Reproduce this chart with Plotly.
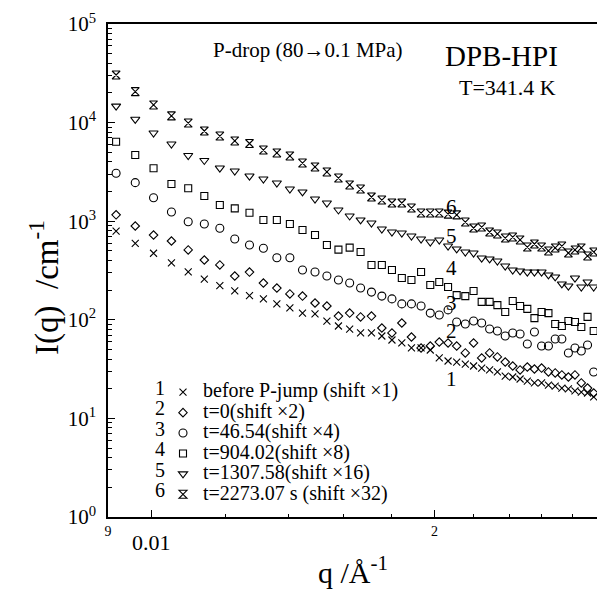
import numpy as np
import plotly.graph_objects as go

# ---------------- data ----------------
q = [0.00918, 0.00962, 0.01006, 0.01051, 0.01095, 0.01139, 0.01183, 0.01227, 0.01272, 0.01316,
     0.01360, 0.01404, 0.01448, 0.01493, 0.01537, 0.01581, 0.01625, 0.01669, 0.01714, 0.01758,
     0.01802, 0.01846, 0.01890, 0.01935, 0.01979, 0.02023, 0.02067, 0.02111, 0.02156, 0.02200,
     0.02244, 0.02288, 0.02332, 0.02377, 0.02421, 0.02465, 0.02509, 0.02553, 0.02598, 0.02642,
     0.02686, 0.02730, 0.02774, 0.02819, 0.02863, 0.02907, 0.02951]

I1 = [795, 597, 473, 377, 307, 258, 222, 196, 176, 163, 145, 132, 117, 115, 97.2, 86.5, 80.6, 73.5, 73.5, 68.5,
      62.4, 58.2, 51.8, 51.8, 49.4, 41.0, 38.2, 37.3, 35.6, 34.0, 32.4, 31.0, 29.6, 26.9, 26.3, 25.1, 23.9, 22.9,
      22.9, 21.8, 21.3, 20.3, 19.9, 19.0, 18.5, 18.1, 16.5]
I2 = [1160, 894, 724, 630, 511, 404, 360, 278, 305, 236, 210, 183, 174, 148, 138, 109, 117, 107, 109, 82.6,
      73.5, 92.8, 66.9, 51.8, 54.2, 59.5, 58.2, 54.2, 46.1, 58.2, 41.0, 46.1, 42.0, 37.3, 34.0, 31.0, 33.2, 31.7,
      32.4, 29.6, 28.9, 27.6, 26.3, 27.6, 22.9, 20.3, 18.1]
I3 = [3060, 2460, 1730, 1240, 988, 937, 847, 660, 574, 531, 426, 426, 320, 305, 278, 253, 236, 210, 191, 174,
      163, 145, 145, 138, 117, 112, 126, 95.0, 90.7, 97.2, 92.8, 80.6, 77.0, 68.5, 73.5, 71.8, 56.8, 75.2, 54.2,
      54.2, 63.9, 63.9, 46.1, 51.8, 48.3, 55.5, 29.6]
I4 = [6400, 4690, 3440, 2380, 2160, 1800, 1460, 1350, 1220, 1030, 1030, 937, 814, 724, 574, 515, 540, 487, 360,
      360, 320, 265, 253, 305, 225, 242, 215, 178, 174, 196, 152, 152, 141, 120, 155, 138, 129, 104, 120, 117,
      90.7, 86.5, 97.2, 95.0, 84.5, 107, 77.0]
I5 = [14700, 10800, 7840, 6070, 4640, 4130, 3460, 3230, 2870, 2680, 2440, 2120, 1980, 1680, 1530, 1300, 1130,
      1030, 959, 833, 777, 759, 708, 660, 615, 645, 560, 523, 487, 476, 423, 414, 395, 351, 320, 313, 305, 305,
      305, 285, 272, 231, 220, 265, 215, 242, 215]
I6 = [30400, 20600, 15100, 11700, 9900, 8220, 7310, 6510, 6140, 5270, 4920, 4590, 3890, 3550, 3160, 2740, 2330,
      2120, 1760, 1640, 1530, 1530, 1360, 1210, 1210, 1210, 1180, 1160, 981, 853, 873, 777, 742, 675, 691, 645,
      547, 587, 547, 499, 535, 560, 476, 511, 535, 444, 487]

series = [I1, I2, I3, I4, I5, I6]
numbers = ["1", "2", "3", "4", "5", "6"]
names = ["before P-jump (shift \u00d71)", "t=0(shift \u00d72)", "t=46.54(shift \u00d74)",
         "t=904.02(shift \u00d78)", "t=1307.58(shift \u00d716)", "t=2273.07 s (shift \u00d732)"]
symbols = ["x-thin-open", "diamond-open", "circle-open", "square-open", "triangle-down-open", "hourglass-open"]
sizes = [7, 6.5, 8, 7, 8, 8]

# curve labels (position along the curves)
curve_label_q = 0.02085
curve_label_I = [25.1, 77, 148, 335, 708, 1390]

ytickvals = [1, 10, 100, 1000, 10000, 100000]
yticktext = ["10<sup>%d</sup>" % k for k in range(6)]
xtickvals = [0.009, 0.01, 0.02]
xticktext = ["9", "", "2"]
xminor = [0.012, 0.014, 0.016, 0.018, 0.022, 0.024, 0.026, 0.028]
yminor = [m * 10 ** d for d in range(5) for m in range(2, 10)]

FONT = "Liberation Serif"

fig = go.Figure()
for I, nm, sym, sz in zip(series, names, symbols, sizes):
    fig.add_trace(go.Scatter(
        x=q, y=I, mode="markers",
        name="<span style='font-size:20px'>%s</span>" % nm,
        marker=dict(symbol=sym, size=sz, color="black", line=dict(width=1.1, color="black")),
    ))

W, H = 597, 589
L, R, T, B = 108, 0, 24, 72
pw, ph = W - L - R, H - T - B


def px(xp):
    return (xp - L) / pw


def py(yp):
    return (H - B - yp) / ph


ann = []
# legend numbers
for k, n in enumerate(numbers):
    ann.append(dict(text=n, x=px(160), y=py(388 + 20.4 * k), xref="paper", yref="paper",
                    showarrow=False, font=dict(family=FONT, size=20, color="black"),
                    xanchor="center", yanchor="middle"))
# curve labels
for n, yv in zip(numbers, curve_label_I):
    ann.append(dict(text=n, x=np.log10(curve_label_q), y=np.log10(yv), xref="x", yref="y",
                    showarrow=False, font=dict(family=FONT, size=21, color="black"),
                    xanchor="center", yanchor="middle"))
ann += [
    dict(text="P-drop (80\u21920.1 MPa)", x=px(308), y=py(50), xref="paper", yref="paper",
         showarrow=False, font=dict(family=FONT, size=21, color="black"), xanchor="center", yanchor="middle"),
    dict(text="DPB-HPI", x=px(501.5), y=py(56), xref="paper", yref="paper",
         showarrow=False, font=dict(family=FONT, size=29, color="black"), xanchor="center", yanchor="middle"),
    dict(text="T=341.4 K", x=px(507.5), y=py(87.5), xref="paper", yref="paper",
         showarrow=False, font=dict(family=FONT, size=22, color="black"), xanchor="center", yanchor="middle"),
    dict(text="0.01", x=np.log10(0.01), y=py(542), xref="x", yref="paper",
         showarrow=False, font=dict(family=FONT, size=22, color="black"), xanchor="center", yanchor="middle"),
    dict(text="q /\u00c5<sup>-1</sup>", x=px(353), y=py(570), xref="paper", yref="paper",
         showarrow=False, font=dict(family=FONT, size=30, color="black"), xanchor="center", yanchor="middle"),
    dict(text="I(q)\u00a0 /cm<sup>-1</sup>", x=px(44), y=py(288), xref="paper", yref="paper", textangle=-90,
         showarrow=False, font=dict(family=FONT, size=33, color="black"), xanchor="center", yanchor="middle"),
]

fig.update_layout(
    width=W, height=H,
    margin=dict(l=L, r=R, t=T, b=B),
    paper_bgcolor="white", plot_bgcolor="white",
    font=dict(family=FONT, color="black"),
    showlegend=True,
    legend=dict(x=px(163), y=py(377), xanchor="left", yanchor="top", bgcolor="rgba(0,0,0,0)",
                font=dict(family=FONT, size=13.4, color="black"), itemwidth=30, borderwidth=0,
                tracegroupgap=0),
    annotations=ann,
    xaxis=dict(type="log", range=[np.log10(0.009), np.log10(0.02975)],
               showgrid=False, zeroline=False, showline=True, linecolor="black", linewidth=1.5, mirror=True,
               tickmode="array", tickvals=xtickvals, ticktext=xticktext, ticks="inside", ticklen=7,
               tickwidth=1.2, tickcolor="black", tickfont=dict(family=FONT, size=14, color="black"),
               minor=dict(tickmode="array", tickvals=xminor, ticks="inside", ticklen=3, tickwidth=1,
                          tickcolor="black", showgrid=False)),
    yaxis=dict(type="log", range=[0, 5],
               showgrid=False, zeroline=False, showline=True, linecolor="black", linewidth=1.5, mirror=False,
               tickmode="array", tickvals=ytickvals, ticktext=yticktext, ticks="inside", ticklen=7,
               tickwidth=1.2, tickcolor="black", tickfont=dict(family=FONT, size=21, color="black"),
               ticklabelstandoff=6,
               minor=dict(tickmode="array", tickvals=yminor, ticks="inside", ticklen=4, tickwidth=1,
                          tickcolor="black", showgrid=False)),
)

fig.write_html("out.html")
